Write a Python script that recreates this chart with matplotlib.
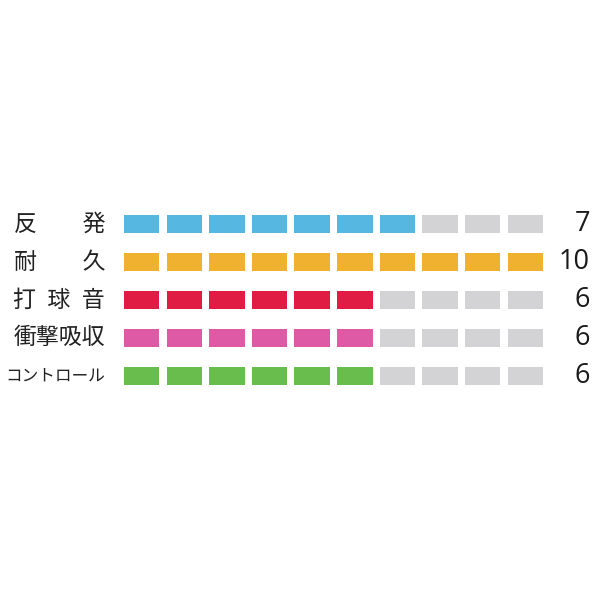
import matplotlib
matplotlib.use("Agg")
import matplotlib.pyplot as plt
import numpy as np

labels = ["反\u3000\u3000発", "耐\u3000\u3000久", "打\u2002球\u2002音", "衝撃吸収", "コントロール"]
values = [7, 10, 6, 6, 6]
colors = ["#56b8e0", "#f0b030", "#e01b44", "#de5aa5", "#68bd4c"]
empty_color = "#d3d3d5"
n_seg = 10

plt.rcParams['font.family'] = ['Noto Sans CJK JP', 'DejaVu Sans']

fig = plt.figure(figsize=(6, 6), dpi=100)
ax = fig.add_axes([124/600, 1 - 395/600, 419/600, 190/600])

seg_w = 0.833
for r, (v, c) in enumerate(zip(values, colors)):
    idx = np.arange(n_seg)
    cols = [c if i < v else empty_color for i in idx]
    ax.barh(np.full(n_seg, r), np.full(n_seg, seg_w), left=idx, height=0.47,
            color=cols, linewidth=0)

ax.set_xlim(0, n_seg - 1 + seg_w)
ax.set_ylim(len(values) - 0.5, -0.5)
ax.axis('off')

for r, (lab, v) in enumerate(zip(labels, values)):
    fs = 16.5 if r < 4 else 12.0
    ax.annotate(lab, xy=(0, r), xycoords='data', xytext=(-19, 0),
                textcoords='offset pixels', ha='right', va='center',
                fontsize=fs, color='#222222')
    ax.annotate(str(v), xy=(1, r), xycoords=('axes fraction', 'data'),
                xytext=(47, 0), textcoords='offset pixels', ha='right',
                va='center', fontsize=19.5, color='#1a1a1a',
                family=['Open Sans', 'DejaVu Sans'])

fig.savefig("out.png", dpi=100, facecolor='white')
